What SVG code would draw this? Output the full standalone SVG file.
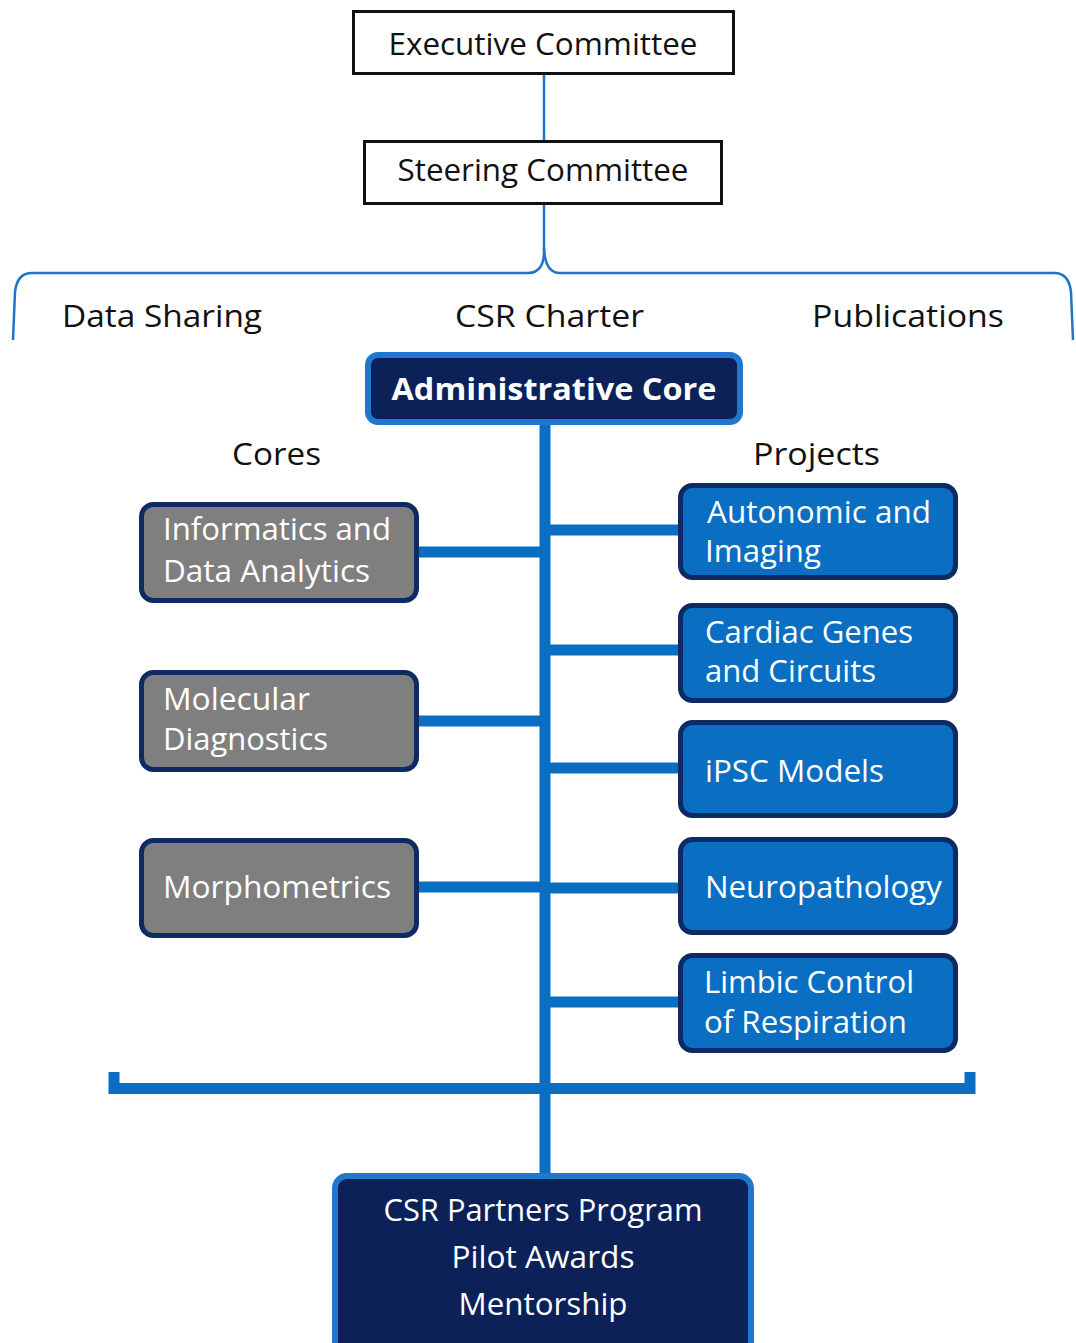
<svg xmlns="http://www.w3.org/2000/svg" width="1076" height="1343" viewBox="0 0 1076 1343">
  <style>
    .txt { font-family: "Open Sans", "Noto Sans", "Liberation Sans", sans-serif; font-size: 31px; }
    .dark { fill: #111111; }
    .light { fill: #ffffff; }
    .mid { text-anchor: middle; }
    .bold { font-weight: bold; }
    .committee { fill: #ffffff; stroke: #111111; stroke-width: 3; }
    .core { fill: #7f7f7f; stroke: #0d2a63; stroke-width: 5; }
    .project { fill: #0a6fc2; stroke: #0d2a63; stroke-width: 5; }
    .hub { fill: #0b2158; stroke: #1f78cc; stroke-width: 6; }
    .thin { fill: none; stroke: #1e74c6; stroke-width: 2.5; }
    .bar { fill: none; stroke: #0a6fc2; stroke-width: 11; }
  </style>

  <rect width="1076" height="1343" fill="#ffffff"/>

  <!-- connectors -->
  <g id="connectors">
    <line class="thin" x1="544" y1="75" x2="544" y2="140"/>
    <path class="thin" d="M544 205 V248 Q545 273 528 273 H32 Q17 273 15 292 L13 340"/>
    <path class="thin" d="M544 248 Q545 273 560 273 H1054 Q1069 273 1071 292 L1073 340"/>
    <line class="bar" x1="545" y1="424" x2="545" y2="1178"/>
    <line class="bar" x1="417" y1="552" x2="545" y2="552"/>
    <line class="bar" x1="417" y1="721" x2="545" y2="721"/>
    <line class="bar" x1="417" y1="887" x2="545" y2="887"/>
    <line class="bar" x1="545" y1="530" x2="681" y2="530"/>
    <line class="bar" x1="545" y1="650" x2="681" y2="650"/>
    <line class="bar" x1="545" y1="768" x2="681" y2="768"/>
    <line class="bar" x1="545" y1="888" x2="681" y2="888"/>
    <line class="bar" x1="545" y1="1002" x2="681" y2="1002"/>
    <path class="bar" d="M114 1072 V1088.5 H970 V1072" stroke-linejoin="miter"/>
  </g>

  <g id="executive">
    <rect class="committee" x="353.5" y="11.5" width="380" height="62"/>
    <text class="txt dark mid" x="543" y="55" textLength="309" lengthAdjust="spacingAndGlyphs">Executive Committee</text>
  </g>

  <g id="steering">
    <rect class="committee" x="364.5" y="141.5" width="357" height="62"/>
    <text class="txt dark mid" x="543" y="181" textLength="291" lengthAdjust="spacingAndGlyphs">Steering Committee</text>
  </g>

  <g id="governance-labels">
    <text class="txt dark" x="62" y="327" textLength="200" lengthAdjust="spacingAndGlyphs">Data Sharing</text>
    <text class="txt dark" x="455" y="327" textLength="189" lengthAdjust="spacingAndGlyphs">CSR Charter</text>
    <text class="txt dark" x="812" y="327" textLength="192" lengthAdjust="spacingAndGlyphs">Publications</text>
  </g>

  <g id="administrative-core">
    <rect class="hub" x="368" y="355" width="372" height="67" rx="10"/>
    <text class="txt light bold mid" x="554" y="400" textLength="325" lengthAdjust="spacingAndGlyphs">Administrative Core</text>
  </g>

  <g id="section-labels">
    <text class="txt dark" x="232" y="465" textLength="89" lengthAdjust="spacingAndGlyphs">Cores</text>
    <text class="txt dark" x="753" y="465" textLength="127" lengthAdjust="spacingAndGlyphs">Projects</text>
  </g>

  <g id="core-informatics">
    <rect class="core" x="141.5" y="504.5" width="275" height="96" rx="12"/>
    <text class="txt light" x="163" y="540" textLength="228" lengthAdjust="spacingAndGlyphs">Informatics and</text>
    <text class="txt light" x="163" y="582" textLength="207" lengthAdjust="spacingAndGlyphs">Data Analytics</text>
  </g>

  <g id="core-molecular">
    <rect class="core" x="141.5" y="672.5" width="275" height="97" rx="12"/>
    <text class="txt light" x="163" y="710" textLength="147" lengthAdjust="spacingAndGlyphs">Molecular</text>
    <text class="txt light" x="163" y="750" textLength="165" lengthAdjust="spacingAndGlyphs">Diagnostics</text>
  </g>

  <g id="core-morphometrics">
    <rect class="core" x="141.5" y="840.5" width="275" height="95" rx="12"/>
    <text class="txt light" x="163" y="898" textLength="228" lengthAdjust="spacingAndGlyphs">Morphometrics</text>
  </g>

  <g id="project-autonomic">
    <rect class="project" x="680.5" y="485.5" width="275" height="92" rx="12"/>
    <text class="txt light" x="707" y="523" textLength="224" lengthAdjust="spacingAndGlyphs">Autonomic and</text>
    <text class="txt light" x="705" y="562" textLength="116" lengthAdjust="spacingAndGlyphs">Imaging</text>
  </g>

  <g id="project-cardiac">
    <rect class="project" x="680.5" y="605.5" width="275" height="95" rx="12"/>
    <text class="txt light" x="705" y="643" textLength="208" lengthAdjust="spacingAndGlyphs">Cardiac Genes</text>
    <text class="txt light" x="705" y="682" textLength="171" lengthAdjust="spacingAndGlyphs">and Circuits</text>
  </g>

  <g id="project-ipsc">
    <rect class="project" x="680.5" y="722.5" width="275" height="93" rx="12"/>
    <text class="txt light" x="705" y="782" textLength="179" lengthAdjust="spacingAndGlyphs">iPSC Models</text>
  </g>

  <g id="project-neuropathology">
    <rect class="project" x="680.5" y="839.5" width="275" height="93" rx="12"/>
    <text class="txt light" x="705" y="898" textLength="237" lengthAdjust="spacingAndGlyphs">Neuropathology</text>
  </g>

  <g id="project-limbic">
    <rect class="project" x="680.5" y="955.5" width="275" height="95" rx="12"/>
    <text class="txt light" x="704" y="993" textLength="210" lengthAdjust="spacingAndGlyphs">Limbic Control</text>
    <text class="txt light" x="704" y="1033" textLength="203" lengthAdjust="spacingAndGlyphs">of Respiration</text>
  </g>

  <g id="partners-program">
    <rect class="hub" x="335" y="1176" width="416" height="185" rx="12"/>
    <text class="txt light mid" x="543" y="1221" textLength="319" lengthAdjust="spacingAndGlyphs">CSR Partners Program</text>
    <text class="txt light mid" x="543" y="1268" textLength="183" lengthAdjust="spacingAndGlyphs">Pilot Awards</text>
    <text class="txt light mid" x="543" y="1315" textLength="169" lengthAdjust="spacingAndGlyphs">Mentorship</text>
  </g>
</svg>
